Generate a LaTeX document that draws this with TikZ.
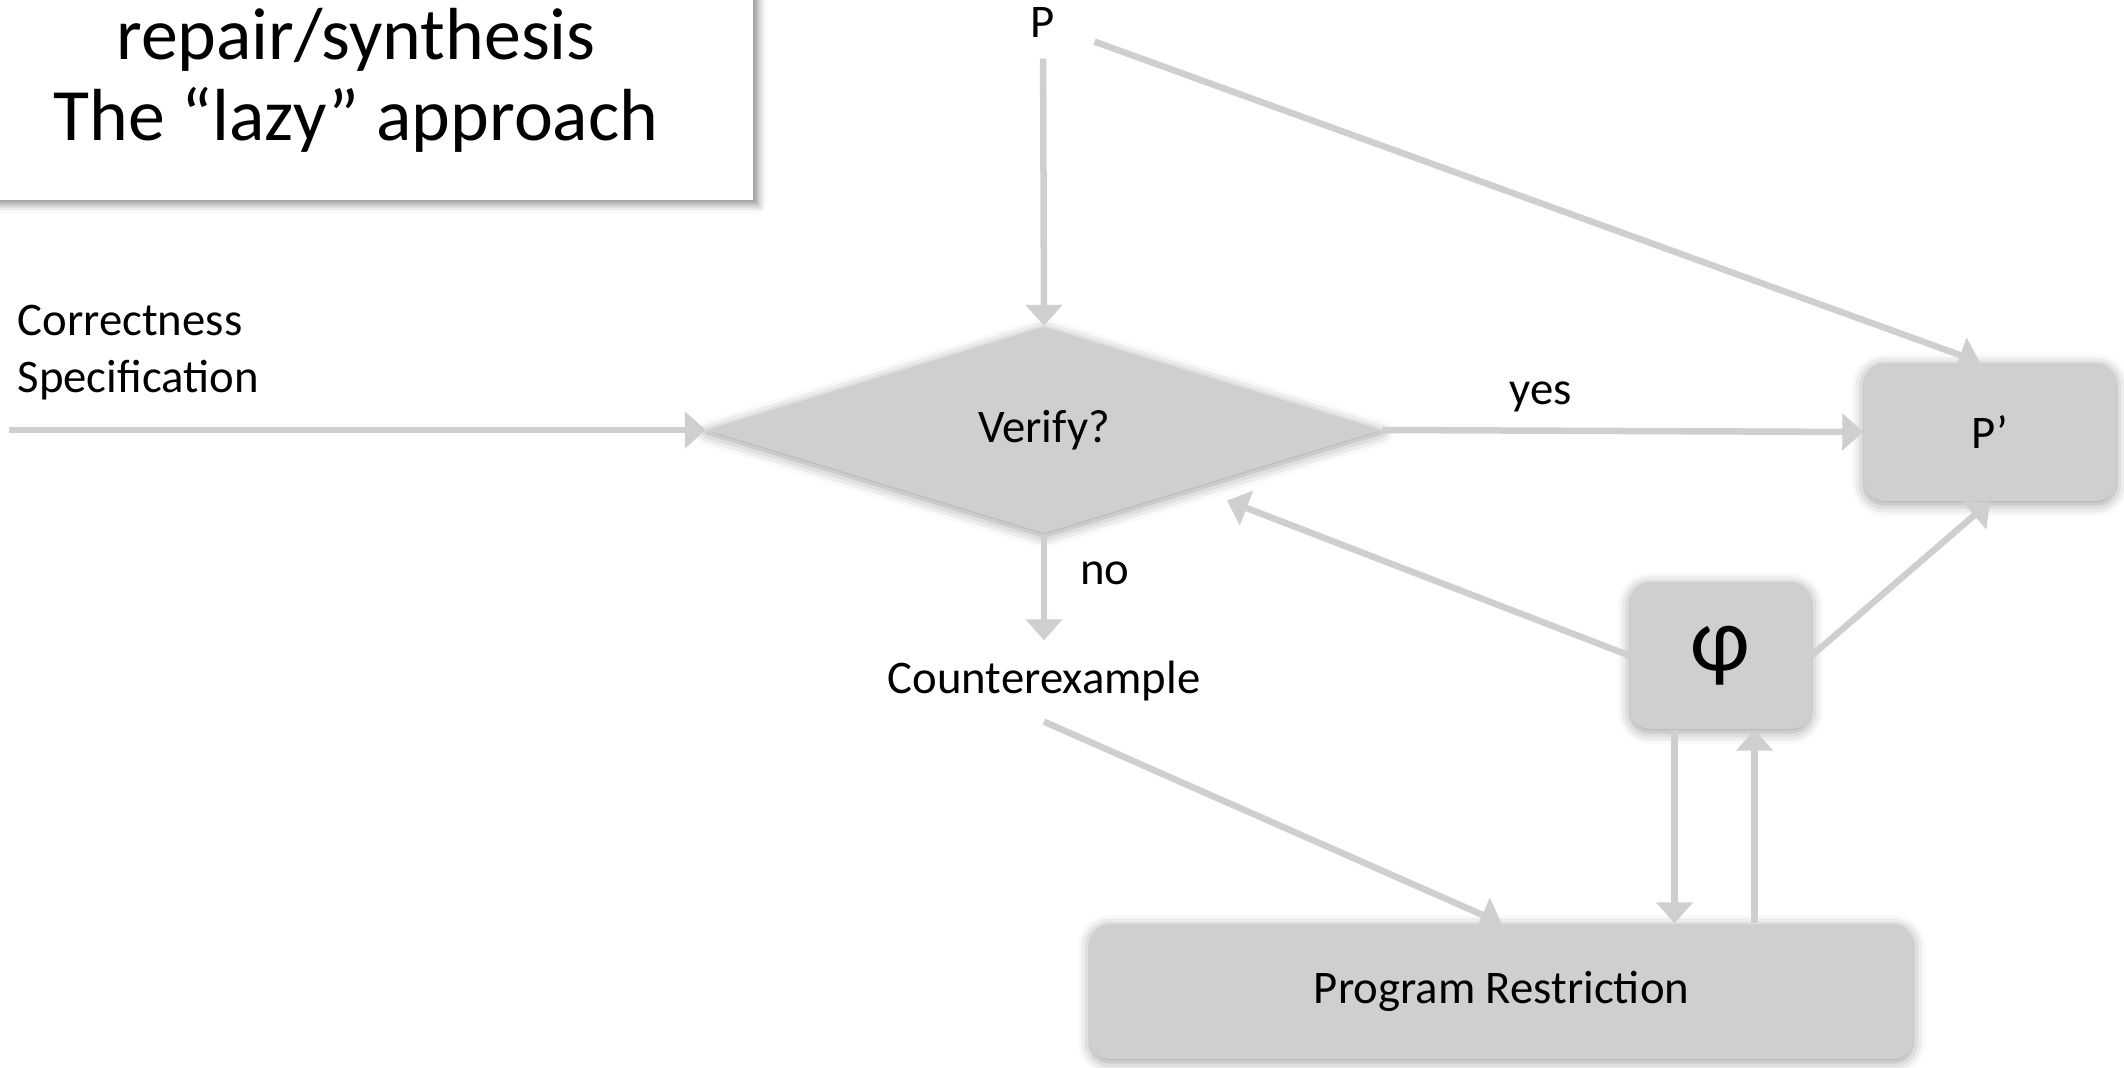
\documentclass[tikz,border=0pt]{standalone}
\usepackage{fontspec}
\setmainfont{Carlito}
\usetikzlibrary{arrows.meta,shapes.geometric,shadows.blur}
\definecolor{boxgray}{RGB}{208,206,207}
\newcommand{\lblfont}{\fontsize{13.3}{16.2}\selectfont}

\begin{document}
\begin{tikzpicture}[->,>={Triangle[length=0.21cm,width=0.36cm]},font=\lblfont]
    \tikzstyle{every edge}=[draw=boxgray,line width=0.065cm]
    \tikzstyle{softshadow}=[blur shadow={shadow xshift=0cm,shadow yshift=-0.03cm,shadow blur radius=0.12cm,shadow opacity=40}]
    \tikzstyle{block}=[fill=boxgray,rounded corners=0.2cm,inner sep=0,softshadow]
    \tikzstyle{decision}=[diamond,fill=boxgray,inner sep=0,minimum width=6.75cm,minimum height=2.07cm,softshadow]
    \tikzstyle{txt}=[inner sep=0.2cm]
    \tikzstyle{titlebox}=[fill=white,align=center,minimum width=7.94cm,minimum height=2.39cm,
        font=\fontsize{21}{23}\selectfont,
        blur shadow={shadow xshift=0.05cm,shadow yshift=-0.05cm,shadow blur radius=0.08cm,shadow opacity=45}]
    \useasboundingbox (0,0) rectangle (21.24,-10.68);
    \node[titlebox]                                   (t)   at (3.56,-0.80)    {repair/synthesis\\The “lazy” approach};
    \node[txt]                                        (1)   at (10.43,-0.23)   {P};
    \node[decision]                                   (2)   at (10.44,-4.30)   {Verify?};
    \node[block,minimum width=2.52cm,minimum height=1.38cm] (3) at (19.90,-4.32) {P’};
    \node[block,minimum width=1.81cm,minimum height=1.47cm,font=\fontsize{26}{29}\selectfont] (4) at (17.205,-6.555) {\raisebox{-0.16cm}{φ}};
    \node[txt]                                        (5)   at (10.44,-6.81)   {Counterexample};
    \node[block,minimum width=8.23cm,minimum height=1.35cm] (6) at (15.015,-9.915) {Program Restriction};
    \node[txt,align=left,anchor=west,inner sep=0]     (7)   at (0.17,-3.53)    {Correctness\\Specification};
    \coordinate                                       (8)   at (0.09,-4.30);
    \node[txt]                                        (yes) at (15.41,-3.97)   {yes};
    \node[txt]                                        (no)  at (11.05,-5.73)   {no};
    \path (8) edge (2.west)
    (1) edge (2.north)
    edge [shorten <=0.2cm] ([xshift=-0.1cm]3.north)
    (2.east) edge (3.west)
    (2.south) edge (5.north)
    (5.south) edge (6.north)
    (4.west) edge [shorten >=0.35cm] (2)
    (4.east) edge (3.south)
    ([xshift=-0.46cm]4.south) edge ([xshift=-0.46cm]4.south |- 6.north)
    ([xshift=0.34cm]4.south |- 6.north) edge ([xshift=0.34cm]4.south);
\end{tikzpicture}
\end{document}
